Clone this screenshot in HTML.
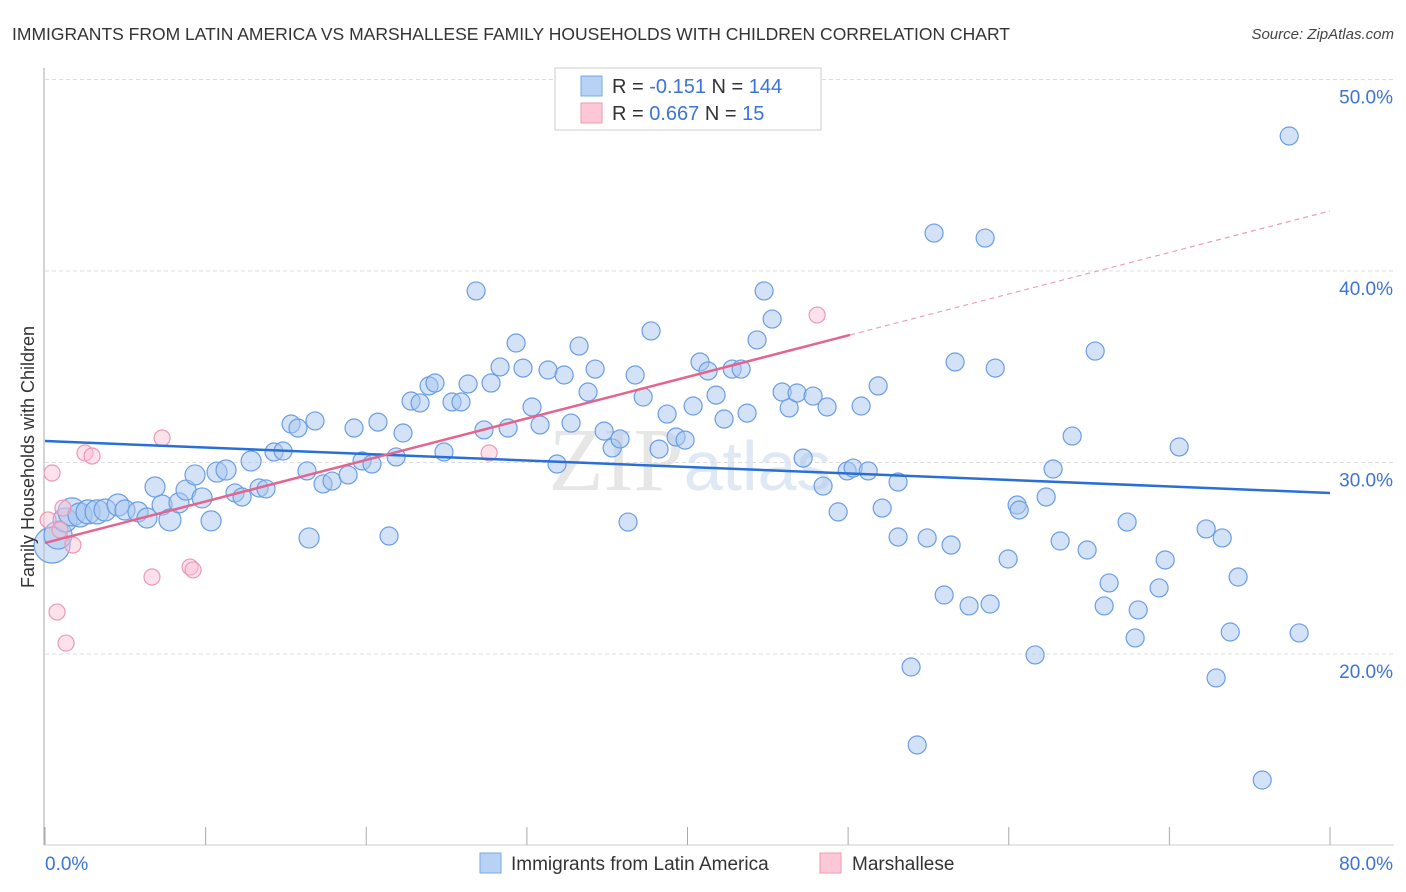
<!DOCTYPE html>
<html><head><meta charset="utf-8"><style>
body{margin:0;background:#fff;font-family:"Liberation Sans",sans-serif;}
svg{display:block}
</style></head><body>
<svg id="chart" width="1406" height="892" xmlns="http://www.w3.org/2000/svg" font-family="Liberation Sans, sans-serif">
<text x="12" y="40" font-size="17.5" fill="#333">IMMIGRANTS FROM LATIN AMERICA VS MARSHALLESE FAMILY HOUSEHOLDS WITH CHILDREN CORRELATION CHART</text>
<text x="1394" y="39" font-size="15" fill="#444" font-style="italic" text-anchor="end">Source: ZipAtlas.com</text>
<text x="690" y="490" font-size="90" fill="#e6e6e6" text-anchor="middle" font-family="Liberation Serif, serif">ZIP<tspan fill="#dfe8f5" font-family="Liberation Sans, sans-serif" font-size="70">atlas</tspan></text>
<g id="grid"></g>
<g id="axes"></g>
<g id="marks"></g>
<text transform="translate(34,457) rotate(-90)" font-size="18" fill="#333" text-anchor="middle">Family Households with Children</text>
<g>
<rect x="555" y="68" width="266" height="62" fill="#fff" stroke="#ccc"/>
<rect x="581" y="76" width="21" height="20" fill="#b8d2f5" stroke="#7aa7e6"/>
<rect x="581" y="103" width="21" height="20" fill="#fcc8d8" stroke="#ee9ab5"/>
<text x="612" y="93" font-size="20" fill="#333">R = <tspan fill="#3b74d6">-0.151</tspan>   N = <tspan fill="#3b74d6">144</tspan></text>
<text x="612" y="120" font-size="20" fill="#333">R =  <tspan fill="#3b74d6">0.667</tspan>   N =    <tspan fill="#3b74d6">15</tspan></text>
</g>
<g>
<rect x="480" y="853" width="21" height="20" fill="#b8d2f5" stroke="#7aa7e6"/>
<text x="511" y="870" font-size="19" fill="#333">Immigrants from Latin America</text>
<rect x="820" y="853" width="21" height="20" fill="#fcc8d8" stroke="#ee9ab5"/>
<text x="852" y="870" font-size="19" fill="#333">Marshallese</text>
</g>
</svg>
<script>
const blueX=[0.44,0.81,1.25,1.68,2.18,2.68,3.24,3.74,4.55,4.98,5.79,6.35,6.85,7.29,7.78,8.34,8.78,9.34,9.78,10.34,10.71,11.27,11.83,12.27,12.83,13.33,13.76,14.26,14.82,15.32,15.75,16.81,16.44,16.31,17.31,17.87,18.87,19.24,19.74,20.36,20.73,21.42,21.86,22.29,22.79,23.35,23.91,24.28,24.84,25.34,25.90,26.34,26.84,27.33,27.77,28.33,28.83,29.33,29.76,30.32,30.82,31.32,31.88,32.32,32.75,33.25,33.81,34.25,34.81,35.31,35.80,36.30,36.74,37.24,37.73,38.23,38.73,39.29,39.85,40.35,40.78,41.28,41.78,42.28,42.78,43.34,43.71,44.33,44.77,45.27,45.89,46.33,46.82,47.20,47.82,48.44,48.69,49.38,49.94,50.31,50.81,51.25,51.87,52.12,53.11,53.11,53.92,54.30,54.92,55.35,55.98,56.41,56.66,57.53,58.53,58.84,59.16,59.96,60.52,60.65,61.64,62.33,62.76,63.20,63.95,64.88,65.38,65.94,66.25,67.37,67.87,68.06,69.36,69.74,70.61,72.29,72.91,73.29,73.79,74.28,75.78,77.46,78.08];
const blueY=[25.69,26.21,27.00,27.42,27.26,27.42,27.42,27.52,27.78,27.52,27.42,27.10,28.72,27.78,27.00,27.89,28.56,29.35,28.15,26.95,29.50,29.61,28.41,28.20,30.08,28.67,28.62,30.55,30.60,32.01,31.80,32.17,26.06,29.56,28.88,29.03,29.35,31.80,30.08,29.92,32.11,26.16,30.29,31.54,33.21,33.11,34.00,34.15,30.55,33.16,33.16,34.10,38.96,31.70,34.15,34.99,31.80,36.24,34.93,32.90,31.96,34.83,29.92,34.57,32.06,36.08,33.68,34.88,31.64,30.76,31.23,26.89,34.57,33.42,36.87,30.70,32.53,31.33,31.17,32.95,35.25,34.78,33.52,32.27,34.88,34.88,32.58,36.40,38.96,37.49,33.68,32.85,33.63,30.23,33.47,28.77,32.90,27.42,29.56,29.71,32.95,29.56,34.00,27.62,28.98,26.11,19.32,15.25,26.06,41.98,23.08,25.69,35.25,22.51,41.72,22.61,34.93,24.96,27.78,27.52,19.95,28.20,29.66,25.90,31.38,25.43,35.82,22.51,23.71,26.89,20.84,22.30,23.45,24.91,30.81,26.53,18.75,26.06,21.15,24.02,13.42,47.05,21.10];
const blueSize=[18,14,12,14,12,12,12,11,11,10,10,10,10,10,11,10,10,10,10,10,10,10,9,9,10,9,9,9,9,9,9,9,10];
const pinkX=[0.19,0.44,0.75,0.93,1.12,1.31,1.74,2.49,2.93,6.66,7.29,9.03,9.22,27.65,48.07];
const pinkY=[27.00,29.45,22.19,26.48,27.62,20.57,25.69,30.50,30.34,24.02,31.28,24.54,24.39,30.50,37.70];
const yTicks=[20,30,40,50];
const yTickLabels=["20.0%","30.0%","40.0%","50.0%"];
const xTicks=[0,10,20,30,40,50,60,70,80];
const blueTrend=[31.12,28.41];
const pinkTrendStart=25.80, pinkTrendSlope=0.2167, pinkSolidEnd=50.12;

const NS="http://www.w3.org/2000/svg";
const sx=v=>45+v*(1285/80);
const sy=v=>654-(v-20)*19.15;
function mk(tag,attrs,parent){const e=document.createElementNS(NS,tag);for(const k in attrs)e.setAttribute(k,attrs[k]);parent.appendChild(e);return e;}
const grid=document.getElementById('grid'),axes=document.getElementById('axes'),marks=document.getElementById('marks');
yTicks.forEach((t,i)=>{
 const l=mk('line',{x1:45,x2:1394,y1:sy(t),y2:sy(t),stroke:'#ddd','stroke-dasharray':'4,3'},grid);
 
 
 const tx=mk('text',{x:1393,y:sy(t)+24,'font-size':19,fill:'#3b74d6','text-anchor':'end'},axes);
 tx.textContent=yTickLabels[i];
 
 
});
const ax=mk('line',{x1:44,x2:44,y1:68,y2:845,stroke:'#aaa'},axes);


const bx=mk('line',{x1:44,x2:1394,y1:845,y2:845,stroke:'#ccc'},axes);


for(let v=0;v<=80;v+=10){
 const tk=mk('line',{x1:sx(v),x2:sx(v),y1:827,y2:845,stroke:'#aaa'},axes);
 
 
}
const xl0=mk('text',{x:45,y:870,'font-size':19,fill:'#3b74d6'},axes);xl0.textContent='0.0%';


const xl1=mk('text',{x:1393,y:870,'font-size':19,fill:'#3b74d6','text-anchor':'end'},axes);xl1.textContent='80.0%';


blueX.forEach((x,i)=>{
 const c=mk('circle',{cx:sx(x),cy:sy(blueY[i]),r:blueSize[i]||9,fill:'rgba(168,198,240,0.5)',stroke:'#6a9ee3','stroke-width':1.2},marks);
 
 
});
pinkX.forEach((x,i)=>{
 const c=mk('circle',{cx:sx(x),cy:sy(pinkY[i]),r:8,fill:'rgba(250,190,210,0.45)',stroke:'#ec98b4','stroke-width':1.2},marks);
 
 
});
const bt=mk('line',{x1:sx(0),y1:sy(blueTrend[0]),x2:sx(80),y2:sy(blueTrend[1]),stroke:'#2a6fd6','stroke-width':2.5},marks);


const pt=mk('line',{x1:sx(0),y1:sy(pinkTrendStart),x2:sx(pinkSolidEnd),y2:sy(pinkTrendStart+pinkTrendSlope*pinkSolidEnd),stroke:'#e5648e','stroke-width':2.5},marks);


const pd=mk('line',{x1:sx(pinkSolidEnd),y1:sy(pinkTrendStart+pinkTrendSlope*pinkSolidEnd),x2:sx(80),y2:sy(pinkTrendStart+pinkTrendSlope*80),stroke:'#e8a0b8','stroke-width':1.2,'stroke-dasharray':'5,4'},marks);


</script>
</body></html>
